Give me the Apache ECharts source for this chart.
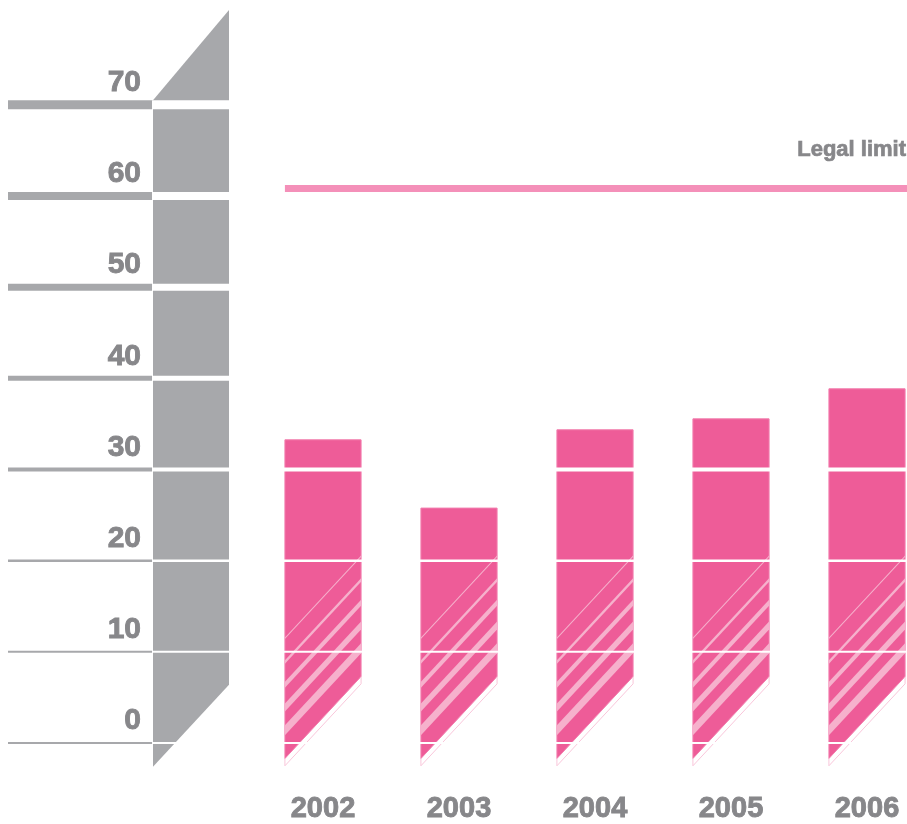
<!DOCTYPE html>
<html lang="en">
  <head>
    <meta charset="UTF-8" />
    <title>Legal limit bars</title>
    <script src="https://cdn.jsdelivr.net/npm/echarts@6/dist/echarts.min.js"></script>
    <style>
      html, body { margin: 0; padding: 0; background: #fff; }
    </style>
  </head>
  <body>
    <div id="chart" style="width: 907px; height: 824px"></div>
    <script>
      const years = ["2002", "2003", "2004", "2005", "2006"];
      const values = [33.2, 25.7, 34.3, 35.5, 38.8];
      const legalLimit = 60.8;
      const tickValues = [0, 10, 20, 30, 40, 50, 60, 70];

      // shape of the decorative pieces (value units)
      const tickWidths = [2, 2, 2.5, 4, 5, 7, 8, 9];
      const columnTop = [70.5, 80.4];
      const columnBottom = [-2.6, 6.4];
      const barFillBottom = [-1.8, 7.2];
      const barOutlineBottom = [-2.6, 6.4];
      const stripeStarts = [11.4, 8.8, 6.3, 3.8, 1.3];
      const stripeThick = [1.5, 3.5, 6, 8, 10];
      const stripeRise = 9.0;

      const grey = "#a7a8ab";
      const textGrey = "#87878a";
      const pink = "#ee5c98";
      const stripePink = "#f6b1cc";
      const font = "'Liberation Sans', Arial, sans-serif";

      const chart = echarts.init(document.getElementById("chart"));

      const yMin = -4;
      const yMax = 80;

      const labelStyle = {
        color: textGrey,
        fontWeight: "bold",
        fontFamily: font,
        textBorderColor: textGrey,
        textBorderWidth: 0.9,
      };

      const option = {
        animation: false,
        grid: [
          { left: 153, width: 76, top: 13.6, bottom: 44.5 },
          { left: 323, width: 544, top: 13.6, bottom: 44.5 },
        ],
        xAxis: [
          { gridIndex: 0, type: "value", min: 0, max: 1, show: false },
          {
            gridIndex: 1,
            type: "category",
            data: years,
            boundaryGap: false,
            axisLine: { show: false },
            axisTick: { show: false },
            axisLabel: Object.assign({ margin: 16, fontSize: 29 }, labelStyle),
          },
        ],
        yAxis: [
          {
            gridIndex: 0,
            type: "value",
            min: yMin,
            max: yMax,
            axisLine: { show: false },
            axisTick: { show: false },
            splitLine: { show: false },
            axisLabel: Object.assign(
              {
                customValues: tickValues,
                margin: 12,
                fontSize: 30,
                verticalAlign: "bottom",
                padding: [0, 0, 7, 0],
              },
              labelStyle
            ),
          },
          { gridIndex: 1, type: "value", min: yMin, max: yMax, show: false },
        ],
        series: [
          {
            // grey column + left rules
            type: "custom",
            xAxisIndex: 0,
            yAxisIndex: 0,
            z: 1,
            data: [[0]],
            renderItem: (params, api) => {
              const tl = api.coord([0, columnTop[0]]);
              const tr = api.coord([1, columnTop[1]]);
              const br = api.coord([1, columnBottom[1]]);
              const bl = api.coord([0, columnBottom[0]]);
              const children = [
                {
                  type: "polygon",
                  shape: { points: [tl, tr, br, bl] },
                  style: { fill: grey },
                },
              ];
              tickValues.forEach((v, i) => {
                const y = api.coord([0, v])[1];
                const w = tickWidths[i];
                children.push({
                  type: "rect",
                  shape: { x: 8, y: y - w / 2, width: tl[0] - 9, height: w },
                  style: { fill: grey },
                });
              });
              return { type: "group", children: children };
            },
          },
          {
            // bars
            type: "custom",
            xAxisIndex: 1,
            yAxisIndex: 1,
            z: 2,
            data: values.map((v, i) => [i, v]),
            encode: { x: 0, y: 1 },
            renderItem: (params, api) => {
              const idx = api.value(0);
              const val = api.value(1);
              const cx = api.coord([idx, 0])[0];
              const bw = api.size([1, 0])[0] * 0.56;
              const xl = cx - bw / 2;
              const xr = cx + bw / 2;
              const yAt = (v) => api.coord([idx, v])[1];
              const children = [
                {
                  type: "polygon",
                  shape: {
                    points: [
                      [xl, yAt(val)],
                      [xr, yAt(val)],
                      [xr, yAt(barFillBottom[1])],
                      [xl, yAt(barFillBottom[0])],
                    ],
                  },
                  style: { fill: pink, stroke: "#f27fae", lineWidth: 1 },
                },
              ];
              stripeStarts.forEach((s, i) => {
                const t = stripeThick[i] / 2;
                const yl = yAt(s);
                const yr = yAt(s + stripeRise);
                children.push({
                  type: "polygon",
                  shape: {
                    points: [
                      [xl, yl - t],
                      [xr, yr - t],
                      [xr, yr + t],
                      [xl, yl + t],
                    ],
                  },
                  style: { fill: stripePink },
                });
              });
              children.push({
                type: "polyline",
                shape: {
                  points: [
                    [xr, yAt(barFillBottom[1])],
                    [xr, yAt(barOutlineBottom[1])],
                    [xl, yAt(barOutlineBottom[0])],
                    [xl, yAt(barFillBottom[0])],
                  ],
                },
                style: { stroke: "#f9c6da", lineWidth: 1, fill: null },
              });
              return { type: "group", children: children };
            },
          },
          {
            // white gaps through column and bars
            type: "custom",
            xAxisIndex: 0,
            yAxisIndex: 0,
            z: 3,
            data: tickValues.map((v, i) => [0, v, i]),
            encode: { x: 0, y: 1 },
            renderItem: (params, api) => {
              const p = api.coord([0, api.value(1)]);
              const w = tickWidths[api.value(2)];
              return {
                type: "rect",
                shape: { x: p[0], y: p[1] - w / 2, width: api.getWidth() - p[0], height: w },
                style: { fill: "#ffffff" },
              };
            },
          },
          {
            // legal limit
            type: "custom",
            xAxisIndex: 1,
            yAxisIndex: 1,
            z: 4,
            data: [[0, legalLimit]],
            encode: { x: 0, y: 1 },
            renderItem: (params, api) => {
              const p = api.coord([0, api.value(1)]);
              const bw = api.size([1, 0])[0] * 0.56;
              const x0 = p[0] - bw / 2;
              const right = api.getWidth();
              return {
                type: "group",
                children: [
                  {
                    type: "rect",
                    shape: { x: x0, y: p[1] - 3.5, width: right - x0, height: 7 },
                    style: { fill: "#f490b9" },
                  },
                  {
                    type: "text",
                    style: {
                      text: "Legal limit",
                      x: right - 1,
                      y: p[1] - 28,
                      align: "right",
                      verticalAlign: "bottom",
                      fill: textGrey,
                      stroke: textGrey,
                      lineWidth: 0.7,
                      font: "bold 22px " + font,
                    },
                  },
                ],
              };
            },
          },
        ],
      };

      chart.setOption(option);
    </script>
  </body>
</html>
